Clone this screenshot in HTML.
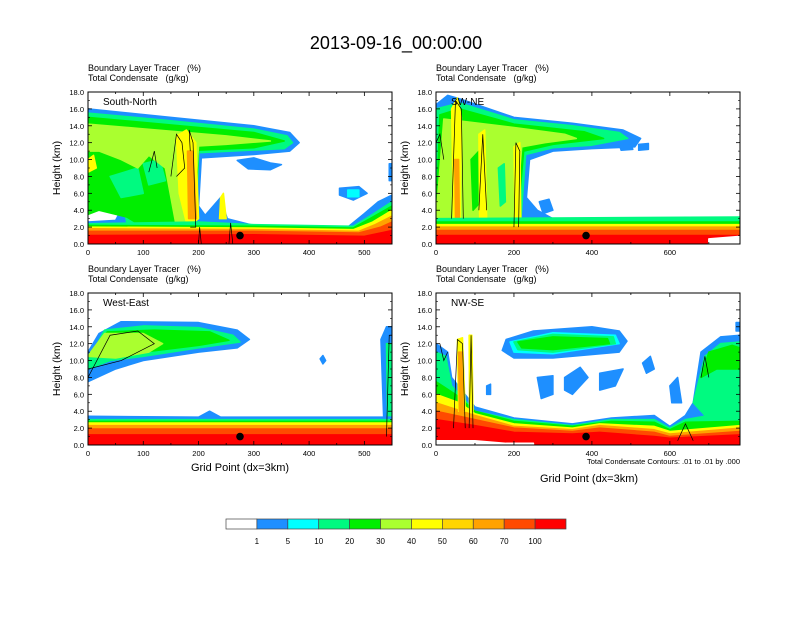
<!DOCTYPE html>
<html><head><meta charset="utf-8">
<style>
body{margin:0;background:#fff;width:792px;height:612px;overflow:hidden;font-family:"Liberation Sans",sans-serif}
svg text{font-family:"Liberation Sans",sans-serif;fill:#000;white-space:pre}
</style></head>
<body>
<svg id="chart" width="792" height="612" viewBox="0 0 792 612" xmlns="http://www.w3.org/2000/svg">
<text x="396" y="49" font-size="18" text-anchor="middle">2013-09-16_00:00:00</text>
</svg>
<script>
const levels=[1,5,10,20,30,40,50,60,70,100];
const colors=['#ffffff','#1e8fff','#00ffff','#00fa80','#00ee00','#aaff2f','#ffff00','#ffd500','#ffa200','#ff4a00','#ff0000'];
const yTicks=[0,2,4,6,8,10,12,14,16,18];
const xTicksA=[0,100,200,300,400,500];
const xTicksB=[0,200,400,600];
const C={w:'#ffffff',b:'#1e8fff',c:'#00ffff',t:'#00fa80',g:'#00ee00',l:'#aaff2f',y:'#ffff00',o1:'#ffd500',o:'#ffa200',r1:'#ff4a00',r:'#ff0000'};
const panel1Layers=[
['b',[[0,16],[150,15],[300,14],[365,13.2],[382,12],[365,11],[300,10.6],[205,10.2],[200,4.5],[212,3.4],[240,5.5],[252,3],[300,2.2],[470,2],[500,3.6],[525,5],[550,5.8],[550,0],[0,0],[0,2.6],[50,2.8],[62,4.3],[0,4.8]]],
['b',[[270,9.9],[300,10.2],[330,9.6],[350,9.4],[330,8.8],[290,8.9]]],
['b',[[455,6.6],[490,6.8],[505,6],[480,5.2],[455,5.8]]],
['b',[[545,9.5],[550,9.5],[550,7.5],[545,7.5]]],
['c',[[470,6.4],[490,6.4],[490,5.6],[470,5.6]]],
['t',[[0,15.5],[150,14.6],[300,13.6],[360,12.8],[370,12],[355,11.3],[200,10.8],[196,3],[170,2.2],[70,2.6],[62,5.2],[0,5.6]]],
['g',[[0,15],[300,13.2],[355,12.2],[300,11.4],[200,11.1],[192,2.4],[100,2],[70,3.2],[20,4],[0,3.5]]],
['t',[[40,8],[90,9],[100,6],[60,5.5]]],
['t',[[100,9.5],[130,10],[140,7.5],[110,7]]],
['l',[[0,14.2],[250,12.8],[330,12.2],[250,11.8],[200,11.6],[190,2],[160,2],[140,9],[110,10.5],[90,9],[60,10],[20,11],[0,11]]],
['y',[[0,10],[10,10.5],[15,9],[0,8.5]]],
['y',[[160,12.8],[178,13.5],[195,12],[200,3],[180,2],[165,6]]],
['y',[[240,5.5],[245,6],[250,3],[238,3]]],
['o',[[180,11],[190,11],[196,3],[182,3]]],
['t',[[0,2.4],[200,2.6],[300,2.3],[480,2.1],[510,3.3],[550,5],[550,0],[0,0]]],
['g',[[0,2.2],[300,2.1],[480,1.9],[510,3],[550,4.5],[550,0],[0,0]]],
['y',[[0,2],[300,1.9],[480,1.7],[515,2.6],[550,4],[550,0],[0,0]]],
['o',[[0,1.8],[300,1.7],[490,1.5],[520,2.3],[550,3.3],[550,0],[0,0]]],
['r1',[[0,1.5],[300,1.5],[490,1.3],[530,2],[550,2.6],[550,0],[0,0]]],
['r',[[0,1],[300,1.1],[500,0.9],[550,1.6],[550,0],[0,0]]]
];
const panel2Layers=[
['b',[[0,16.5],[30,17.6],[60,17.2],[200,15],[350,14.3],[480,13.5],[525,12.5],[510,11.5],[400,11.3],[300,11],[240,10],[232,5.5],[260,4],[300,3],[350,2.6],[500,2.7],[600,2.5],[780,2.9],[780,0],[0,0]]],
['b',[[265,5],[290,5.3],[300,4],[275,3.6]]],
['b',[[470,11.8],[500,11.9],[505,11.2],[475,11.1]]],
['b',[[520,11.8],[545,11.9],[545,11.2],[520,11.1]]],
['t',[[0,16],[60,16.7],[200,14.7],[350,14],[470,13.2],[492,12.5],[400,11.7],[300,11.4],[230,10.6],[218,3],[0,3]]],
['g',[[10,15.3],[60,16],[200,14.2],[380,13.3],[430,12.5],[300,11.8],[225,11],[210,3],[0,3]]],
['t',[[60,12],[80,13],[90,8],[70,7]]],
['t',[[150,10],[170,11],[175,6],[155,5]]],
['l',[[20,14.8],[200,13.8],[330,13],[360,12.5],[280,12],[220,11.5],[205,3],[0,3]]],
['g',[[90,10],[110,11],[115,5],[95,4]]],
['t',[[160,9],[175,9.5],[178,5],[165,4.5]]],
['y',[[40,16],[55,17.3],[65,15],[62,3],[45,3]]],
['y',[[110,13],[125,13.5],[130,3],[112,3]]],
['y',[[200,11.5],[215,12],[218,2],[203,2]]],
['o',[[48,10],[58,10],[60,3],[50,3]]],
['t',[[0,3],[780,3.2],[780,0],[0,0]]],
['g',[[0,2.6],[780,2.6],[780,0],[0,0]]],
['y',[[0,2.3],[780,2.3],[780,0],[0,0]]],
['o',[[0,2],[780,2],[780,0],[0,0]]],
['r1',[[0,1.6],[780,1.6],[780,0],[0,0]]],
['r',[[0,1],[780,1],[780,0],[0,0]]],
['w',[[700,0.6],[780,0.9],[780,0],[700,0]]]
];
const panel3Layers=[
['b',[[0,11],[20,13.2],[60,14.6],[200,14.5],[270,13.6],[292,12.5],[270,11.5],[200,11],[100,10],[50,9],[0,7.5]]],
['b',[[420,10.2],[425,10.6],[430,10],[425,9.6]]],
['t',[[0,10],[30,13.6],[100,14.1],[200,13.9],[262,13],[275,12.2],[200,11.5],[100,10.5],[40,10],[0,9]]],
['g',[[0,10.5],[35,13.4],[120,13.6],[220,13.4],[255,12.4],[200,11.8],[100,11],[40,10.5]]],
['l',[[5,11],[30,13.2],[100,13.2],[135,12],[110,11],[50,10.3],[0,10.5]]],
['b',[[530,12.5],[540,14],[550,14],[550,3],[535,3]]],
['t',[[540,12],[550,12],[550,3],[542,3]]],
['b',[[0,3.4],[200,3.3],[220,4],[240,3.3],[550,3.3],[550,0],[0,0]]],
['t',[[0,3],[550,3],[550,0],[0,0]]],
['g',[[0,2.8],[550,2.8],[550,0],[0,0]]],
['y',[[0,2.6],[550,2.6],[550,0],[0,0]]],
['o',[[0,2.3],[550,2.3],[550,0],[0,0]]],
['r1',[[0,1.9],[550,1.9],[550,0],[0,0]]],
['r',[[0,1.2],[550,1.2],[550,0],[0,0]]]
];
const panel4Layers=[
['b',[[180,12.5],[250,13.5],[400,14],[470,13.5],[490,12.3],[470,11],[300,10.3],[200,10.3],[170,11.2]]],
['c',[[190,12.2],[300,13.3],[460,13],[470,12],[300,10.8],[200,11]]],
['t',[[200,12.2],[300,13.1],[455,12.8],[460,12],[300,11],[210,11.3]]],
['g',[[210,12.2],[300,12.8],[440,12.6],[445,12],[300,11.3],[220,11.5]]],
['b',[[260,8],[300,8.2],[300,6],[270,5.5]]],
['b',[[330,8],[370,9.2],[390,8],[350,6],[330,6.5]]],
['b',[[420,8.5],[480,9],[460,7],[420,6.5]]],
['b',[[130,7],[140,7.2],[140,6],[130,6]]],
['b',[[600,7],[620,8],[630,5],[605,5]]],
['b',[[530,9.7],[550,10.5],[560,9],[540,8.5]]],
['b',[[0,12],[30,11],[40,8],[100,4.5],[200,3.2],[350,2.5],[450,3.2],[560,3.5],[600,2.2],[640,3.5],[660,5],[680,11],[730,12.8],[780,13],[780,0],[0,0]]],
['b',[[770,14.5],[780,14.5],[780,13.5],[770,13.5]]],
['t',[[660,5],[690,10.5],[730,12],[780,12.2],[780,3],[700,3]]],
['g',[[680,8],[700,11],[760,11.8],[780,11.5],[780,9],[720,9]]],
['t',[[0,11],[25,10.5],[40,7],[80,5],[100,4],[200,3],[350,2.3],[450,3],[560,3],[600,2],[640,3],[700,3.5],[780,3],[780,0],[0,0]]],
['g',[[0,7.5],[50,6],[100,4],[200,2.8],[350,2.2],[450,2.8],[560,2.7],[600,1.8],[640,2.7],[780,2.8],[780,0],[0,0]]],
['y',[[0,6],[60,5],[100,3.7],[200,2.5],[350,2],[420,2.5],[560,2.2],[600,1.6],[780,2.3],[780,0],[0,0]]],
['o',[[0,5],[100,3.5],[200,2.2],[350,1.8],[420,2.3],[560,1.8],[600,1.3],[780,2],[780,0],[0,0]]],
['r1',[[0,4],[100,3],[200,2],[350,1.6],[420,2],[560,1.5],[600,1],[780,1.6],[780,0],[0,0]]],
['r',[[0,3],[100,2.3],[200,1.5],[350,1.3],[420,1.5],[560,1],[600,0.8],[780,1.2],[780,0],[0,0]]],
['y',[[55,12.5],[68,12.7],[75,4],[58,4]]],
['y',[[85,13],[92,13],[95,4],[86,4]]],
['o',[[58,11],[66,11],[70,4],[60,4]]],
['w',[[0,0.5],[100,0.5],[180,0.2],[250,0.2],[250,0],[0,0]]]
];
const contours1=[[[150,8],[160,13],[170,12],[175,9],[160,8]],[[185,11],[183,13.5],[190,12],[195,2],[185,2]],[[110,8.5],[120,11],[125,9]],[[200,0],[202,2],[205,0]],[[255,0],[258,2.5],[262,0]]];
const contours2=[[[40,3],[50,17],[65,16],[70,3]],[[110,4],[120,13],[130,4]],[[200,2],[205,12],[215,11],[212,2]],[[0,12],[10,13],[20,10]]];
const contours3=[[[0,8],[40,13],[90,13.5],[120,12],[60,10],[0,9]],[[540,1],[545,13],[550,13]]];
const contours4=[[[45,2],[55,12.5],[68,12],[75,2]],[[85,2],[90,13],[95,2]],[[680,8],[690,10.5],[700,8]],[[620,0.5],[640,2.5],[660,0.5]],[[10,12],[20,10],[30,11]]];
const dots=[[275,1],[385,1],[275,1],[385,1]];

const svg=document.getElementById('chart');
const NS='http://www.w3.org/2000/svg';
function mk(tag,attrs,parent){const e=document.createElementNS(NS,tag);for(const k in attrs)e.setAttribute(k,attrs[k]);(parent||svg).appendChild(e);return e;}
const panels=[
{x0:88,y0:92,xmax:550,label:'South-North',xt:xTicksA,layers:panel1Layers,cont:contours1,name:'south-north'},
{x0:436,y0:92,xmax:780,label:'SW-NE',xt:xTicksB,layers:panel2Layers,cont:contours2,name:'sw-ne'},
{x0:88,y0:293,xmax:550,label:'West-East',xt:xTicksA,layers:panel3Layers,cont:contours3,name:'west-east'},
{x0:436,y0:293,xmax:780,label:'NW-SE',xt:xTicksB,layers:panel4Layers,cont:contours4,name:'nw-se'}];
const PW=304,PH=152;
panels.forEach((p,i)=>{
  const g=mk('g',{});
  
  
  const sx=v=>p.x0+v/p.xmax*PW, sy=v=>p.y0+PH-v/18*PH;
  const h1=mk('text',{x:p.x0,y:p.y0-21,'font-size':9},g);h1.textContent='Boundary Layer Tracer   (%)';
  
  const h2=mk('text',{x:p.x0,y:p.y0-11,'font-size':9},g);h2.textContent='Total Condensate   (g/kg)';
  
  const cp=mk('clipPath',{id:'cp'+i},g);mk('rect',{x:p.x0,y:p.y0,width:PW,height:PH},cp);
  const fg=mk('g',{'clip-path':'url(#cp'+i+')'},g);
  p.layers.forEach(L=>{
    const pg=mk('polygon',{points:L[1].map(q=>sx(q[0])+','+sy(q[1])).join(' '),fill:C[L[0]],stroke:C[L[0]],'stroke-width':1.5,'stroke-linejoin':'round'},fg);
    
    
  });
  p.cont.forEach(c=>{
    const pl=mk('polyline',{points:c.map(q=>sx(q[0])+','+sy(q[1])).join(' '),fill:'none',stroke:'#000','stroke-width':0.7},fg);
    
    
  });
  const d=mk('circle',{cx:sx(dots[i][0]),cy:sy(dots[i][1]),r:3.8,fill:'#000'},fg);
  
  
  const fr=mk('rect',{x:p.x0,y:p.y0,width:PW,height:PH,fill:'none',stroke:'#000','stroke-width':1},g);
  
  
  const lb=mk('text',{x:p.x0+15,y:p.y0+13,'font-size':10},g);lb.textContent=p.label;
  
  yTicks.forEach(t=>{
    const y=sy(t);
    mk('line',{x1:p.x0,x2:p.x0+4,y1:y,y2:y,stroke:'#000','stroke-width':0.8},g);
    mk('line',{x1:p.x0+PW,x2:p.x0+PW-4,y1:y,y2:y,stroke:'#000','stroke-width':0.8},g);
    if(t<18){const ym=sy(t+1);mk('line',{x1:p.x0,x2:p.x0+2,y1:ym,y2:ym,stroke:'#000','stroke-width':0.6},g);mk('line',{x1:p.x0+PW,x2:p.x0+PW-2,y1:ym,y2:ym,stroke:'#000','stroke-width':0.6},g);}
    const tx=mk('text',{x:p.x0-4,y:y+3,'font-size':7.5,'text-anchor':'end'},g);tx.textContent=t.toFixed(1);
    
  });
  const step=p.xt[1]-p.xt[0];
  for(let v=0;v<=p.xmax;v+=step/2){const x=sx(v),L=(v%step===0)?4:2;
    mk('line',{x1:x,x2:x,y1:p.y0+PH,y2:p.y0+PH-L,stroke:'#000','stroke-width':0.8},g);
    mk('line',{x1:x,x2:x,y1:p.y0,y2:p.y0+L,stroke:'#000','stroke-width':0.8},g);}
  p.xt.forEach(t=>{const tx=mk('text',{x:sx(t),y:p.y0+PH+11,'font-size':7.5,'text-anchor':'middle'},g);tx.textContent=t;
    });
  const yt=mk('text',{x:0,y:0,'font-size':10.5,'text-anchor':'middle',transform:`translate(${p.x0-28},${p.y0+PH/2}) rotate(-90)`},g);
  yt.textContent='Height (km)';
});
const xa1=mk('text',{x:240,y:471,'font-size':11,'text-anchor':'middle'});xa1.textContent='Grid Point (dx=3km)';

const xa2=mk('text',{x:589,y:482,'font-size':11,'text-anchor':'middle'});xa2.textContent='Grid Point (dx=3km)';

const ci=mk('text',{x:740,y:464,'font-size':7.5,'text-anchor':'end'});ci.textContent='Total Condensate Contours: .01 to .01 by .000';

const cb=mk('g',{});


const cbx=226,cby=519,cbw=340/colors.length,cbh=10;
colors.forEach((c,i)=>{const r=mk('rect',{x:cbx+i*cbw,y:cby,width:cbw,height:cbh,fill:c,stroke:'#444','stroke-width':0.7},cb);
  });
levels.forEach((l,i)=>{const t=mk('text',{x:cbx+(i+1)*cbw,y:544,'font-size':8,'text-anchor':'middle'},cb);t.textContent=l;
  });
</script>
</body></html>
